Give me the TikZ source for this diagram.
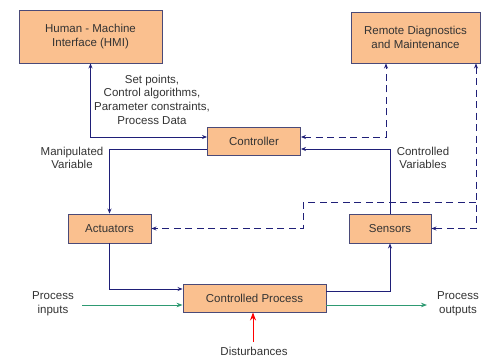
\documentclass[tikz,border=0pt]{standalone}
\usepackage{fontspec}
\setmainfont{Liberation Sans}
\usetikzlibrary{arrows.meta,calc}
\definecolor{boxfill}{HTML}{FAC08F}
\definecolor{boxline}{HTML}{4A4A78}
\definecolor{flow}{HTML}{1F1F78}
\definecolor{matflow}{HTML}{2E9A72}
\definecolor{labeltext}{HTML}{333333}
\tikzset{
  blk/.style={draw=boxline, fill=boxfill, line width=0.9pt, inner sep=0pt,
    align=center, font=\fontsize{11.5}{14}\selectfont, text=labeltext},
  lbl/.style={align=center, font=\fontsize{11.5}{13.7}\selectfont, text=labeltext, inner sep=0pt},
  sig/.style={draw=flow, line width=0.8pt, -{Stealth[length=5pt,width=4pt]}},
  sigboth/.style={sig, {Stealth[length=5pt,width=4pt]}-{Stealth[length=5pt,width=4pt]}},
  remote/.style={draw=flow, line width=0.8pt, dash pattern=on 7pt off 4.5pt},
  material/.style={draw=matflow, line width=0.8pt, -{Stealth[length=6pt,width=4.5pt]}},
}
\begin{document}
\begin{tikzpicture}[x=1pt, y=-1pt]
\useasboundingbox (0,0) rectangle (481,357);

% blocks
\node[blk, minimum width=143pt, minimum height=53pt] (hmi) at (90.5,36.5) {Human - Machine\\Interface (HMI)};
\node[blk, minimum width=129pt, minimum height=51pt] (rem) at (415.5,37.5) {Remote Diagnostics\\and Maintenance};
\node[blk, minimum width=93pt, minimum height=28pt] (ctrl) at (254,141.5) {Controller};
\node[blk, minimum width=83pt, minimum height=29pt] (act) at (109.5,228.5) {Actuators};
\node[blk, minimum width=82pt, minimum height=29pt] (sens) at (390,228.5) {Sensors};
\node[blk, minimum width=143pt, minimum height=28pt] (proc) at (254.5,298) {Controlled Process};

% labels
\node[lbl] (setp) at (152,99.5) {Set points,\\Control algorithms,\\Parameter constraints,\\Process Data};
\node[lbl] (manip) at (72,158) {Manipulated\\Variable};
\node[lbl] (cvar) at (423,158) {Controlled\\Variables};
\node[lbl] (pin) at (53,304) {Process\\inputs};
\node[lbl] (pout) at (458,304) {Process\\outputs};
\node[lbl] (dist) at (254,351) {Disturbances};

% signal connections
\draw[sigboth] (hmi.south) |- ([yshift=4.5pt]ctrl.west);
\draw[sig] ([yshift=-7.5pt]ctrl.west) -| (act.north);
\draw[sig] (act.south) |- ([yshift=9pt]proc.west);
\draw[sig] ([yshift=7pt]proc.east) -| (sens.south);
\draw[sig] (sens.north) |- ([yshift=-7.5pt]ctrl.east);

% remote diagnostics links
\coordinate (rdl) at ([xshift=-29.5pt]rem.south);
\coordinate (rdr) at ([xshift=60.5pt]rem.south);
\coordinate (tap) at (476,202);
\coordinate (knee) at (303,202);
\draw[remote, {Stealth[length=5pt,width=4pt]}-{Stealth[length=5pt,width=4pt]}] ([yshift=4.5pt]ctrl.east) -| (rdl);
\draw[remote, {Stealth[length=5pt,width=4pt]}-{Stealth[length=5pt,width=4pt]}] (rdr) |- (sens.east);
\draw[remote, -{Stealth[length=5pt,width=4pt]}] (tap) -- (knee) |- (act.east);

% material flow and disturbance
\coordinate (inflow) at (82,305);
\coordinate (outflow) at (427,305);
\draw[material] (inflow) -- (proc.west |- inflow);
\draw[material] (proc.east |- outflow) -- (outflow);
\coordinate (dsrc) at (253,342);
\draw[draw=red, line width=0.9pt, -{Stealth[length=8pt,width=6pt]}] (dsrc) -- (proc.south -| dsrc);
\end{tikzpicture}
\end{document}
